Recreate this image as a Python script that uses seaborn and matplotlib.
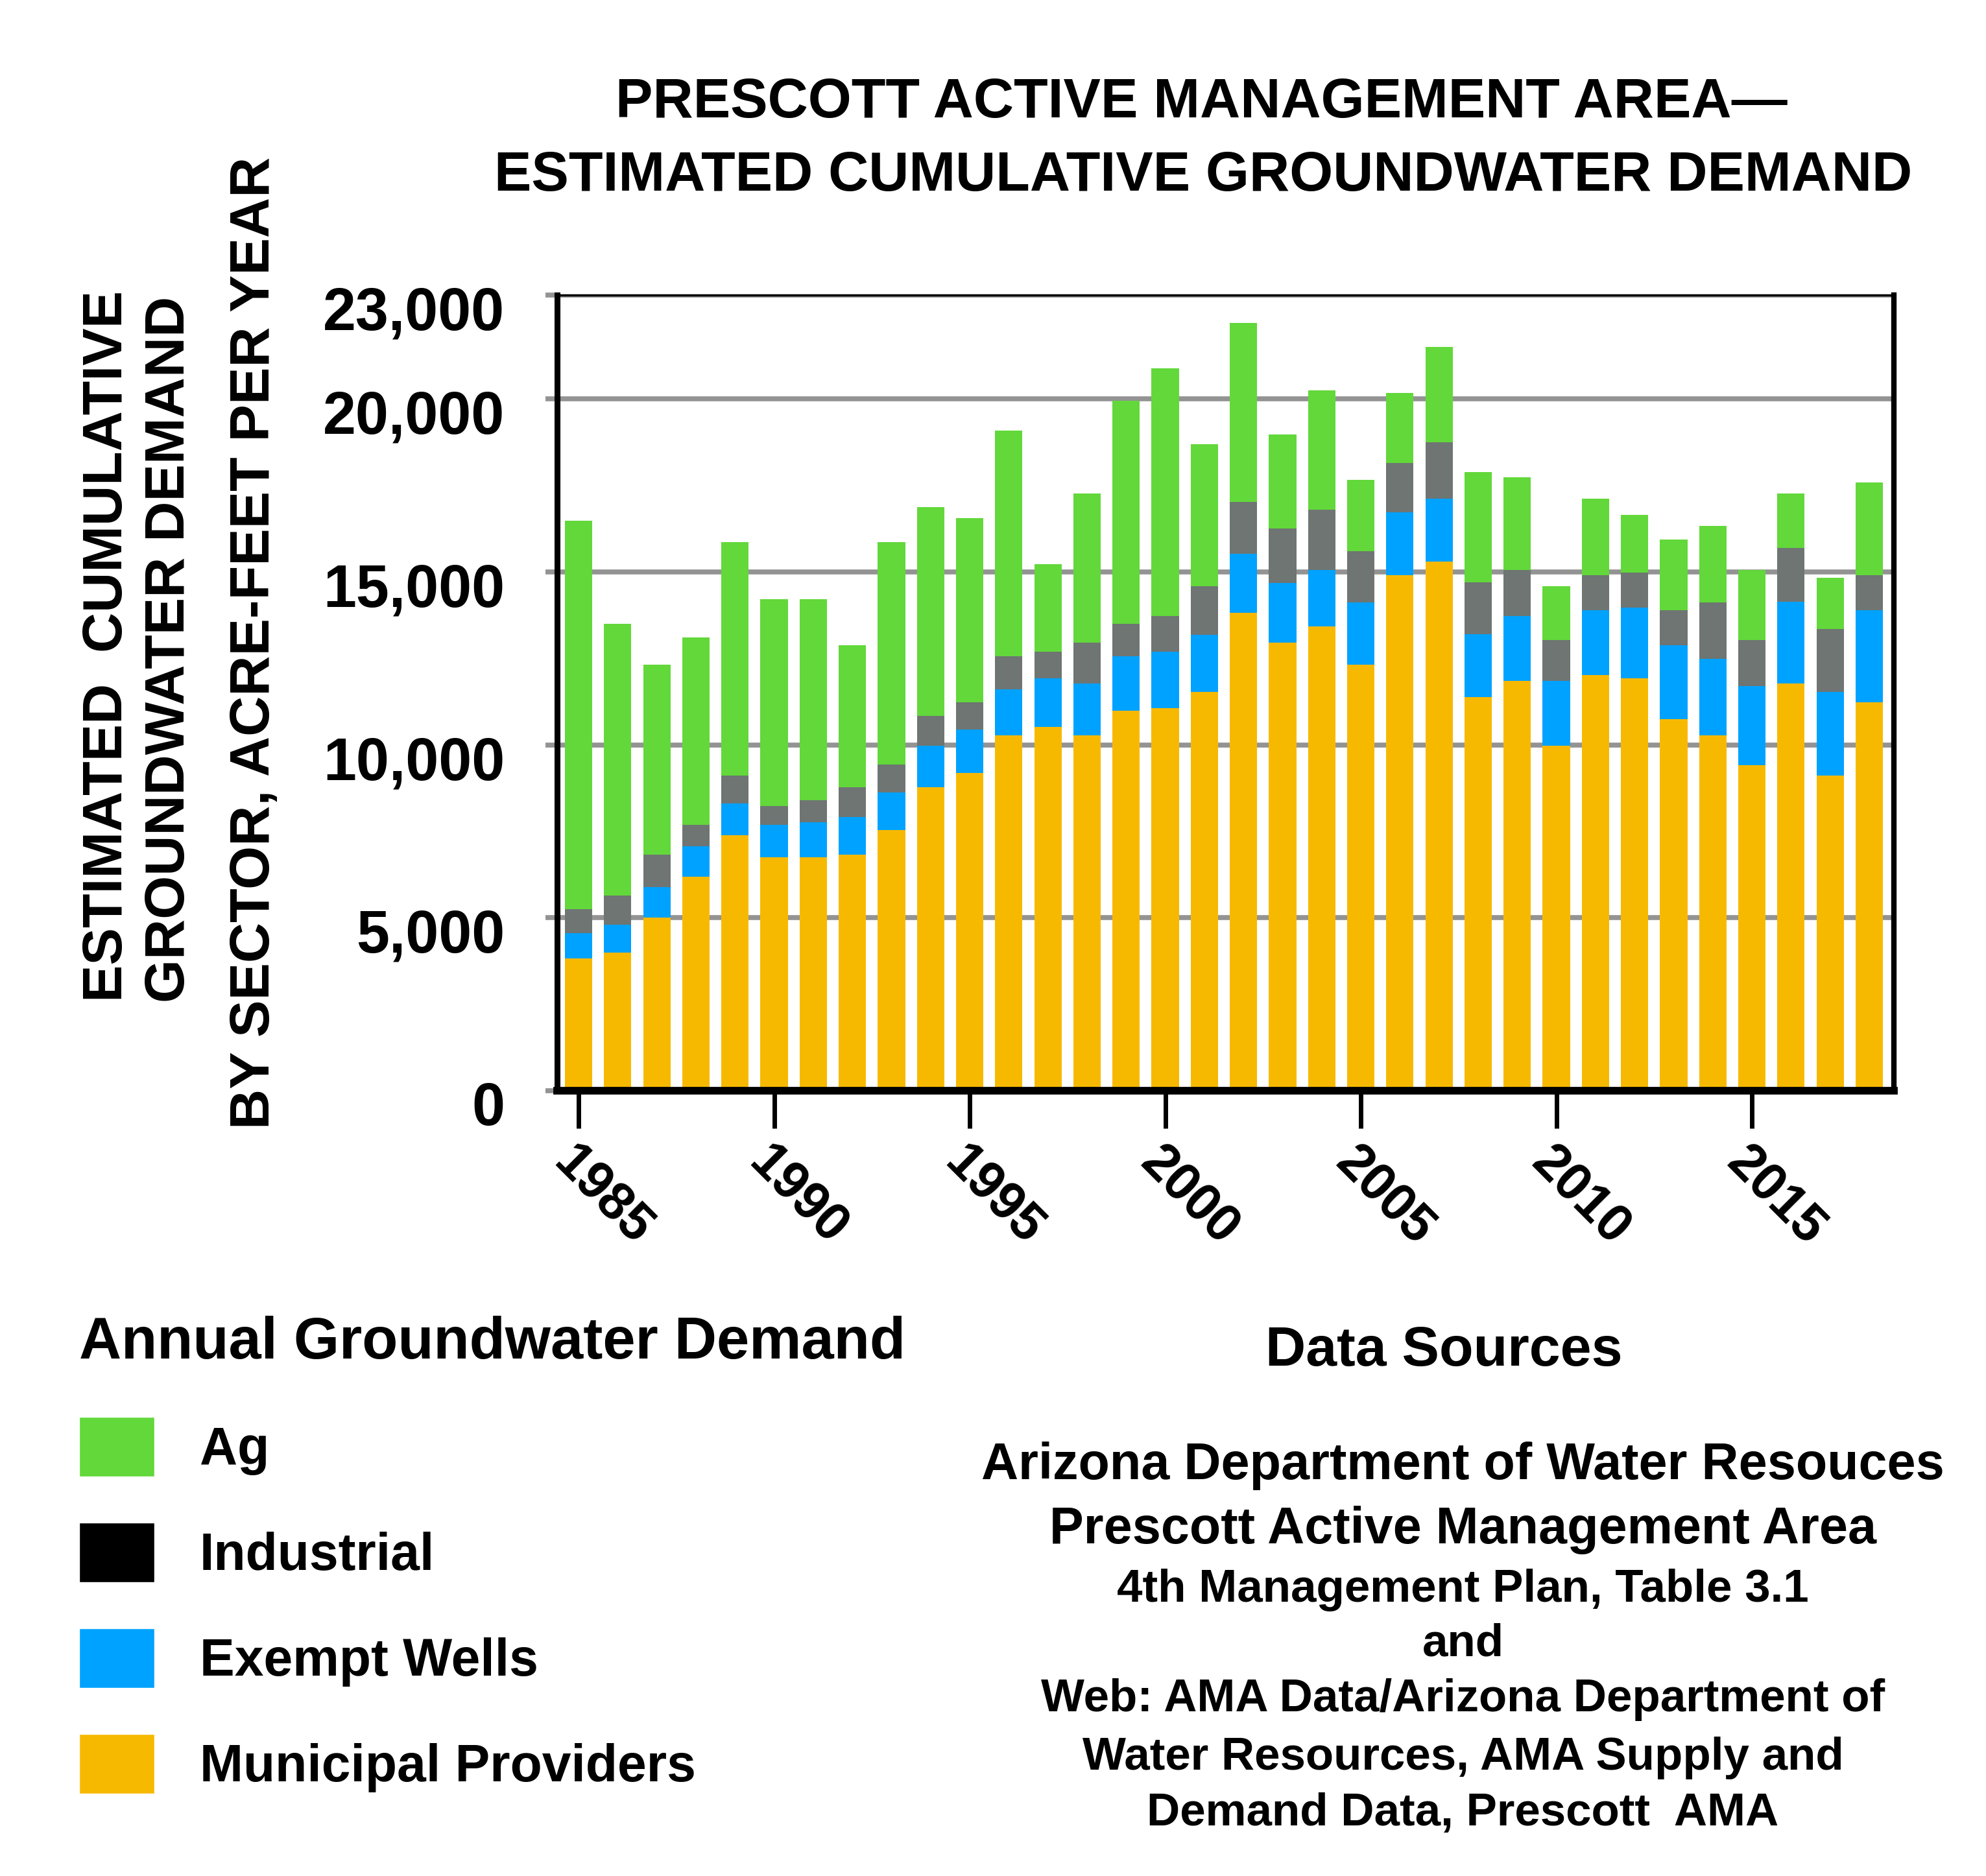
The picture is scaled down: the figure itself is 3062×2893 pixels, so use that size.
import matplotlib
matplotlib.use("Agg")
import matplotlib.pyplot as plt
import matplotlib.transforms as mtransforms
from matplotlib.patches import Patch
import pandas as pd
import seaborn as sns

# Prescott AMA groundwater demand by sector, acre-feet per year
years = list(range(1985, 2019))
municipal = [3830, 4000, 5000, 6190, 7380, 6750, 6750, 6830, 7530, 8780,
             9190, 10280, 10520, 10280, 10980, 11060, 11530, 13810, 12950, 13420,
             12310, 14910, 15300, 11380, 11840, 9970, 12020, 11920, 10750, 10280,
             9410, 11770, 9110, 11220]
exempt = [730, 800, 890, 870, 930, 940, 1020, 1090, 1090, 1190,
          1250, 1330, 1400, 1490, 1580, 1640, 1640, 1720, 1720, 1640,
          1810, 1810, 1810, 1810, 1890, 1870, 1870, 2050, 2120, 2200,
          2280, 2360, 2420, 2670]
industrial = [690, 840, 940, 630, 800, 540, 620, 860, 800, 860,
              780, 950, 780, 1180, 940, 1030, 1420, 1490, 1580, 1740,
              1480, 1420, 1640, 1500, 1330, 1190, 1020, 1010, 1020, 1640,
              1340, 1560, 1810, 1020]
ag = [11220, 7860, 5480, 5420, 6750, 5970, 5810, 4100, 6440, 6050,
      5330, 6520, 2520, 4320, 6450, 7150, 4100, 5180, 2730, 3450,
      2050, 2030, 2750, 3200, 2670, 1560, 2200, 1660, 2050, 2200,
      2030, 1580, 1490, 2670]

sectors = ["Ag", "Industrial", "Exempt Wells", "Municipal Providers"]
y_ticks = [0, 5000, 10000, 15000, 20000, 23000]
y_tick_labels = ["0", "5,000", "10,000", "15,000", "20,000", "23,000"]
x_ticks = [1985, 1990, 1995, 2000, 2005, 2010, 2015]

GREEN = "#62d83a"
GRAY = "#6e7572"
BLUE = "#00a2ff"
YELLOW = "#f7b900"

sns.set_theme(style="white")
plt.rcParams["font.family"] = ["Liberation Sans", "DejaVu Sans"]
plt.rcParams["font.weight"] = "bold"
plt.rcParams["text.color"] = "black"
plt.rcParams["axes.labelcolor"] = "black"
plt.rcParams["xtick.color"] = "black"
plt.rcParams["ytick.color"] = "black"

df = pd.DataFrame({"year": years, "municipal": municipal, "exempt": exempt,
                   "industrial": industrial, "ag": ag})
# cumulative tops of each stacked segment
df["top_muni"] = df["municipal"]
df["top_exempt"] = df["top_muni"] + df["exempt"]
df["top_ind"] = df["top_exempt"] + df["industrial"]
df["top_ag"] = df["top_ind"] + df["ag"]

fig = plt.figure(figsize=(30.62, 28.93), dpi=100)
ax = fig.add_axes([0.2805, 0.4186, 0.6731, 0.4241])

# draw tallest stack first, then overlay the lower segments
for col, color in [("top_ag", GREEN), ("top_ind", GRAY),
                   ("top_exempt", BLUE), ("top_muni", YELLOW)]:
    sns.barplot(data=df, x="year", y=col, native_scale=True, orient="x",
                width=0.7, color=color, saturation=1, errorbar=None,
                linewidth=0, ax=ax)

ax.set_xlim(1984.45, 2018.63)
ax.set_ylim(0, 23000)
ax.set_xlabel("")
ax.set_ylabel("")

ax.set_axisbelow(True)
ax.yaxis.grid(True, color="#939393", linewidth=5.5)
ax.xaxis.grid(False)

ax.set_yticks(y_ticks)
ax.set_yticklabels(y_tick_labels, fontsize=66, fontweight="bold",
                   color="black")
ax.tick_params(axis="y", direction="out", length=13, width=5.5,
               color="#939393", labelcolor="black", pad=45, left=True)
offset = mtransforms.ScaledTranslation(0, -0.2, fig.dpi_scale_trans)
for lab in ax.get_yticklabels():
    lab.set_transform(lab.get_transform() + offset)

ax.set_xticks(x_ticks)
ax.set_xticklabels([str(x) for x in x_ticks], fontsize=58, fontweight="bold",
                   color="black")
ax.tick_params(axis="x", direction="out", length=42, width=5, color="black",
               labelcolor="black", pad=10, bottom=True)
plt.setp(ax.get_xticklabels(), rotation=-45, ha="left", va="top",
         rotation_mode="anchor")

for side, lw in [("left", 6.5), ("bottom", 8.5), ("right", 6), ("top", 2.5)]:
    ax.spines[side].set_visible(True)
    ax.spines[side].set_color("black")
    ax.spines[side].set_linewidth(lw)

# title
fig.text(0.605, 0.945, "PRESCOTT ACTIVE MANAGEMENT AREA\u2014", ha="center",
         va="center", fontsize=62, fontweight="bold", color="black")
fig.text(0.606, 0.906, "ESTIMATED CUMULATIVE GROUNDWATER DEMAND", ha="center",
         va="center", fontsize=62, fontweight="bold", color="black")

# y axis title, three rotated lines
fig.text(0.0542, 0.6556, "ESTIMATED  CUMULATIVE", rotation=90, ha="center",
         va="center", fontsize=62, fontweight="bold", color="black")
fig.text(0.0855, 0.654, "GROUNDWATER DEMAND", rotation=90, ha="center",
         va="center", fontsize=62, fontweight="bold", color="black")
fig.text(0.1285, 0.6573, "BY SECTOR, ACRE-FEET PER YEAR", rotation=90,
         ha="center", va="center", fontsize=62, fontweight="bold",
         color="black")

# legend
handles = [Patch(facecolor=GREEN), Patch(facecolor="black"),
           Patch(facecolor=BLUE), Patch(facecolor=YELLOW)]
leg = fig.legend(handles, sectors, title="Annual Groundwater Demand",
                 loc="upper left", bbox_to_anchor=(0.040, 0.2985),
                 frameon=False, prop={"weight": "bold", "size": 58},
                 title_fontproperties={"weight": "bold", "size": 65},
                 handlelength=1.43, handleheight=1.38, labelspacing=0.88,
                 handletextpad=0.87, borderpad=0, borderaxespad=0,
                 alignment="left")
for t in leg.get_texts():
    t.set_color("black")
leg.get_title().set_color("black")

# data sources block
fig.text(0.727, 0.2795, "Data Sources", ha="center", va="center",
         fontsize=62, fontweight="bold", color="black")
source_lines = [
    ("Arizona Department of Water Resouces", 0.2188, 57),
    ("Prescott Active Management Area", 0.1843, 57),
    ("4th Management Plan, Table 3.1", 0.1526, 51),
    ("and", 0.1236, 51),
    ("Web: AMA Data/Arizona Department of", 0.0939, 51),
    ("Water Resources, AMA Supply and", 0.0628, 51),
    ("Demand Data, Prescott  AMA", 0.0331, 51),
]
for text, y, size in source_lines:
    fig.text(0.7366, y, text, ha="center", va="center", fontsize=size,
             fontweight="bold", color="black")

fig.savefig("out.png", dpi=100, facecolor="white")
